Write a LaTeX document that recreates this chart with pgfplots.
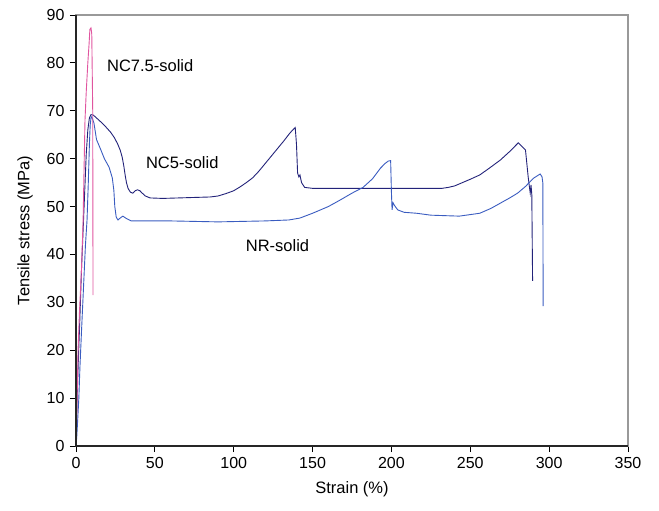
\documentclass[border=0pt]{standalone}
\usepackage{fontspec}
\setmainfont{Liberation Sans}
\usepackage{pgfplots}
\pgfplotsset{compat=1.18}
\usetikzlibrary{calc}
\definecolor{ncfive}{HTML}{23237A}
\definecolor{nr}{HTML}{3A5CC0}
\definecolor{ncseven}{HTML}{E0559F}
\begin{document}
\fontsize{16}{19}\selectfont
\begin{tikzpicture}
\begin{axis}[
  scale only axis, width=552pt, height=431pt,
  xmin=0, xmax=350, ymin=0, ymax=90,
  xtick={0,50,...,350}, ytick={0,10,...,90},
  tick align=outside, xtick pos=bottom, ytick pos=left,
  major tick length=6pt,
  tick style={black, line width=0.8pt},
  axis line style={draw=black!40, line width=1.2pt},
  /pgf/number format/assume math mode=true,
  tick label style={font=\fontsize{16}{19}\selectfont},
  label style={font=\fontsize{16.5}{19}\selectfont},
  xlabel={Strain (\%)}, ylabel={Tensile stress (MPa)},
  xlabel style={yshift=-2pt},
  ylabel style={yshift=3pt},
  clip=false,
]
\addplot[ncfive, line width=0.9pt] coordinates {
(0,0)(0.7,10)(1.5,18)(2.5,27)(3.5,37)(4.5,45)(5.5,53)(6.5,61)(7.5,66)(8.5,68.5)(9.5,69.2)(11,69.1)(13,68.5)(16,67.6)(19,66.6)(22,65.5)(24.5,64.3)(26.5,63)(28,61.8)(29.3,60.3)(30.3,58.5)(31.2,56.5)(32,55)(33,53.8)(34.5,53)(36,52.8)(37.5,53.3)(39,53.5)(40.5,53.3)(42,52.8)(44,52.2)(47,51.8)(55,51.7)(65,51.8)(75,51.9)(85,52)(90,52.2)(95,52.7)(100,53.3)(104,54.1)(108,55)(112,56)(116,57.4)(120,59)(124,60.6)(128,62.2)(132,63.8)(135.5,65.3)(138,66.2)(139,66.5)(139.8,63)(140.5,57)(141.3,56.2)(142,56.6)(143,55)(145,54)(150,53.8)(200,53.8)(232,53.8)(236,54)(240,54.3)(245,55)(250,55.7)(256,56.6)(262,58)(269,59.7)(275,61.5)(280.4,63.3)(282,62.8)(285,61.8)(286.7,56.2)(288,52.8)(288.5,54.5)(289,52.5)(289.5,34.5)
};
\addplot[nr, line width=0.9pt] coordinates {
(0,0)(0.5,2)(1,5)(1.8,10)(2.5,16.5)(3.5,24)(4.4,30.5)(5.3,37)(6,42)(7,47.2)(7.8,55)(8.5,63)(9,67)(9.6,68.8)(10.3,68.5)(11.4,67.4)(13,64)(15.8,61.8)(18,60)(21,58.2)(23,56)(24,53.4)(24.6,50)(25.5,47.8)(26.6,47.2)(28,47.6)(29.7,48)(32,47.5)(35,47)(60,47)(90,46.8)(120,47)(135,47.2)(142,47.6)(150,48.6)(160,50)(167.7,51.4)(175,52.8)(182,54)(188,55.8)(193,58)(196,59)(198,59.5)(199.5,59.6)(200,53)(200.4,49.3)(201,50.8)(202,50.2)(204,49.3)(208,48.8)(216,48.6)(225,48.2)(243,48)(256,48.6)(263,49.6)(269,50.7)(275,51.8)(280,52.8)(285,54.2)(290,55.9)(294.3,56.8)(295.5,56.2)(296,54.9)(296.2,29.2)
};
\addplot[ncseven, line width=0.9pt] coordinates {
(0,0)(0.6,8)(1.3,20)(2.2,28)(3.5,37)(4.5,47)(5,56)(5.7,68)(6.5,74)(7.5,80)(8.3,84)(8.8,87)(9.5,87.3)(10,86)(10.6,70)(10.8,31.5)
};
\node[anchor=west, inner sep=0pt, font=\fontsize{16.5}{19}\selectfont] at (axis cs:19.6,79.5) {NC7.5-solid};
\node[anchor=west, inner sep=0pt, font=\fontsize{16.5}{19}\selectfont] at (axis cs:44.3,59.1) {NC5-solid};
\node[anchor=west, inner sep=0pt, font=\fontsize{16.5}{19}\selectfont] at (axis cs:107.6,41.8) {NR-solid};
\draw[black!85, line width=1.3pt] (rel axis cs:0,1) -- (rel axis cs:0,0) -- (rel axis cs:1,0);
\end{axis}
\path ($(current axis.south west)+(-76pt,-64pt)$) rectangle ($(current axis.north east)+(31pt,15pt)$);
\end{tikzpicture}
\end{document}
